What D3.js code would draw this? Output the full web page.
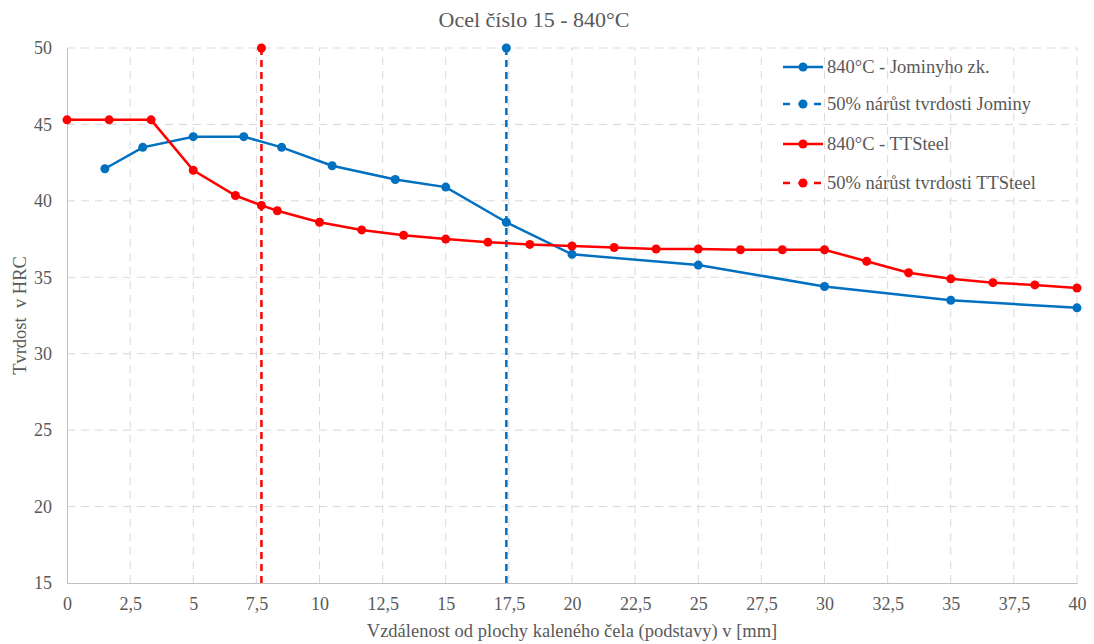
<!DOCTYPE html>
<html>
<head>
<meta charset="utf-8">
<script src="https://cdn.jsdelivr.net/npm/d3@7"></script>
</head>
<body style="margin:0; background:#fff">
<script>
var w = 1094;
var h = 644;

// 840°C - Jominyho zk.
var jominyX = [1.5, 3, 5, 7, 8.5, 10.5, 13, 15, 17.4, 20, 25, 30, 35, 40];
var jominyY = [42.1, 43.5, 44.2, 44.2, 43.5, 42.3, 41.4, 40.9, 38.6, 36.5, 35.8, 34.4, 33.5, 33.0];

// 840°C - TTSteel
var ttX = [0, 1.67, 3.33, 5, 6.67, 7.7, 8.33, 10, 11.67, 13.33, 15, 16.67, 18.33, 20,
           21.67, 23.33, 25, 26.67, 28.33, 30, 31.67, 33.33, 35, 36.67, 38.33, 40];
var ttY = [45.3, 45.3, 45.3, 42.0, 40.35, 39.7, 39.35, 38.6, 38.1, 37.75, 37.5, 37.3, 37.15, 37.05,
           36.95, 36.85, 36.85, 36.8, 36.8, 36.8, 36.05, 35.3, 34.9, 34.65, 34.5, 34.3];

// 50% nárůst tvrdosti
var jominyHalfX = [17.4, 17.4];
var jominyHalfY = [50, 15];
var ttHalfX = [7.7, 7.7];
var ttHalfY = [50, 15];

var xTicks = [0, 2.5, 5, 7.5, 10, 12.5, 15, 17.5, 20, 22.5, 25, 27.5, 30, 32.5, 35, 37.5, 40];
var yTicks = [15, 20, 25, 30, 35, 40, 45, 50];

var legendNames = ["840°C - Jominyho zk.", "50% nárůst tvrdosti Jominy",
                   "840°C - TTSteel", "50% nárůst tvrdosti TTSteel"];

var blue = "#0070C0";
var red = "#FF0000";
var font = "Liberation Serif";
var textColor = "#595959";

var locale = d3.formatLocale({decimal: ",", thousands: " ", grouping: [3], currency: ["", ""]});
var fmt = locale.format("~g");

var margin = {left: 67, right: 17, top: 48, bottom: 61};

var x = d3.scaleLinear().domain([0, 40]).range([margin.left, w - margin.right]);
var y = d3.scaleLinear().domain([15, 50]).range([h - margin.bottom, margin.top]);

var svg = d3.select("body").append("svg")
    .attr("width", w)
    .attr("height", h)
    .attr("font-family", font);

// grid
var grid = svg.append("g");
grid.selectAll("line.v")
    .data(xTicks.slice(1))
    .enter().append("line")
    .attr("x1", function(d){return x(d);})
    .attr("x2", function(d){return x(d);})
    .attr("y1", y(15))
    .attr("y2", y(50))
    .attr("stroke", "#d9d9d9")
    .attr("stroke-width", 1)
    .attr("stroke-dasharray", "8,6");
grid.selectAll("line.h")
    .data(yTicks.slice(1))
    .enter().append("line")
    .attr("x1", x(0))
    .attr("x2", x(40))
    .attr("y1", function(d){return y(d);})
    .attr("y2", function(d){return y(d);})
    .attr("stroke", "#d9d9d9")
    .attr("stroke-width", 1)
    .attr("stroke-dasharray", "8,6");

// axes
var xAxis = svg.append("g")
    .attr("transform", "translate(0," + y(15) + ")")
    .call(d3.axisBottom(x).tickValues(xTicks).tickSize(0).tickPadding(14).tickFormat(fmt));
var yAxis = svg.append("g")
    .attr("transform", "translate(" + x(0) + ",0)")
    .call(d3.axisLeft(y).tickValues(yTicks).tickSize(0).tickPadding(15).tickFormat(fmt));
[xAxis, yAxis].forEach(function(a){
    a.attr("font-family", font).attr("font-size", 18);
    a.select(".domain").attr("stroke", "#bfbfbf");
    a.selectAll("text").attr("fill", textColor);
});

// series
function drawSeries(xs, ys, color, dashed) {
    var pts = xs.map(function(v, i){return [v, ys[i]];});
    var line = d3.line()
        .x(function(d){return x(d[0]);})
        .y(function(d){return y(d[1]);});
    svg.append("path")
        .datum(pts)
        .attr("d", line)
        .attr("fill", "none")
        .attr("stroke", color)
        .attr("stroke-width", 2.5)
        .attr("stroke-dasharray", dashed ? "7,5" : null);
    return pts;
}

drawSeries(ttHalfX, ttHalfY, red, true);
drawSeries(jominyHalfX, jominyHalfY, blue, true);
var jp = drawSeries(jominyX, jominyY, blue, false);
var tp = drawSeries(ttX, ttY, red, false);

svg.append("g").selectAll("circle")
    .data(jp)
    .enter().append("circle")
    .attr("cx", function(d){return x(d[0]);})
    .attr("cy", function(d){return y(d[1]);})
    .attr("r", 4.5)
    .style("fill", blue);
svg.append("g").selectAll("circle")
    .data(tp)
    .enter().append("circle")
    .attr("cx", function(d){return x(d[0]);})
    .attr("cy", function(d){return y(d[1]);})
    .attr("r", 4.5)
    .style("fill", red);
// marker only at the top of the dashed lines
svg.append("circle").attr("cx", x(ttHalfX[0])).attr("cy", y(ttHalfY[0])).attr("r", 4.5).style("fill", red);
svg.append("circle").attr("cx", x(jominyHalfX[0])).attr("cy", y(jominyHalfY[0])).attr("r", 4.5).style("fill", blue);

// legend
var legendColors = [blue, blue, red, red];
var legendDashed = [false, true, false, true];
var legendY = [67, 104, 144, 183];
var legend = svg.append("g");
legendNames.forEach(function(name, i){
    var g = legend.append("g").attr("transform", "translate(783," + legendY[i] + ")");
    g.append("line")
        .attr("x1", 0).attr("x2", 40).attr("y1", 0).attr("y2", 0)
        .attr("stroke", legendColors[i])
        .attr("stroke-width", 2.5)
        .attr("stroke-dasharray", legendDashed[i] ? "7,8.5" : null);
    g.append("circle").attr("cx", 20).attr("cy", 0).attr("r", 4.5).style("fill", legendColors[i]);
    g.append("text")
        .attr("x", 44).attr("y", 0).attr("dy", "0.35em")
        .attr("font-size", 18.5)
        .attr("fill", textColor)
        .text(name);
});

// titles
svg.append("text")
    .attr("x", 534).attr("y", 27)
    .attr("text-anchor", "middle")
    .attr("font-size", 22)
    .attr("fill", textColor)
    .text("Ocel číslo 15 - 840°C");

svg.append("text")
    .attr("x", x(20)).attr("y", 637)
    .attr("text-anchor", "middle")
    .attr("font-size", 18.5)
    .attr("fill", textColor)
    .text("Vzdálenost od plochy kaleného čela (podstavy) v [mm]");

svg.append("text")
    .attr("transform", "translate(26," + y(32.5) + ") rotate(-90)")
    .attr("text-anchor", "middle")
    .attr("font-size", 18.5)
    .attr("fill", textColor)
    .attr("xml:space", "preserve")
    .text("Tvrdost  v HRC");
</script>
</body>
</html>
